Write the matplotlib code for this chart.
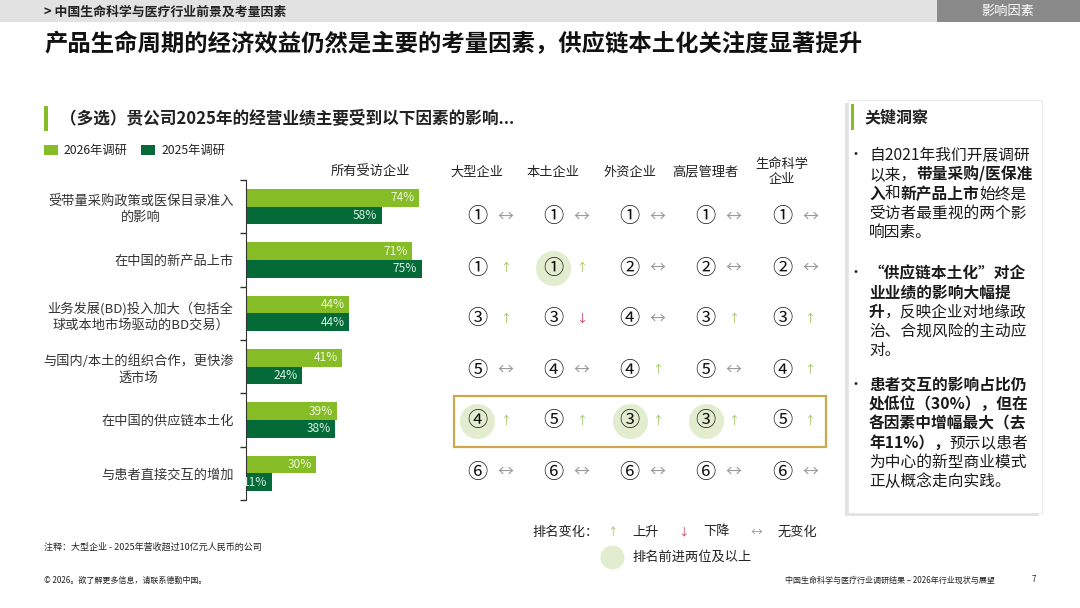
import matplotlib.pyplot as plt
from matplotlib.patches import Rectangle

plt.rcParams['font.family'] = ['Noto Sans CJK SC', 'DejaVu Sans']

# ==== Farben ====
GREEN = '#86BC25'
DARK_GREEN = '#046A38'
HL_GREEN = '#e2edcf'
UP_COLOR = '#9cc25a'
DOWN_COLOR = '#c23b55'
SAME_COLOR = '#9a9a9a'
GOLD = '#cfa84e'
TEXT = '#222222'

# ==== Daten ====
factors = ['受带量采购政策或医保目录准入\n的影响', '在中国的新产品上市',
           '业务发展(BD)投入加大（包括全\n球或本地市场驱动的BD交易）',
           '与国内/本土的组织合作，更快渗\n透市场', '在中国的供应链本土化', '与患者直接交互的增加']
survey_2026 = [74, 71, 44, 41, 39, 30]
survey_2025 = [58, 75, 44, 24, 38, 11]

segments = ['大型企业', '本土企业', '外资企业', '高层管理者', '生命科学\n企业']
# Rang je Faktor (Zeile) und Segment (Spalte)
ranks = [[1, 1, 1, 1, 1],
         [1, 1, 2, 2, 2],
         [3, 3, 4, 3, 3],
         [5, 4, 4, 5, 4],
         [4, 5, 3, 3, 5],
         [6, 6, 6, 6, 6]]
# Veränderung: 1 = Aufstieg, -1 = Abstieg, 0 = unverändert
changes = [[0, 0, 0, 0, 0],
           [1, 1, 0, 0, 0],
           [1, -1, 0, 1, 1],
           [0, 0, 1, 0, 1],
           [1, 1, 1, 1, 1],
           [0, 0, 0, 0, 0]]
# Aufstieg um zwei oder mehr Plätze
jump2 = [[0, 0, 0, 0, 0],
         [0, 1, 0, 0, 0],
         [0, 0, 0, 0, 0],
         [0, 0, 0, 0, 0],
         [1, 0, 1, 1, 0],
         [0, 0, 0, 0, 0]]
highlight_row = 4

arrow_sym = {1: '↑', -1: '↓', 0: '↔'}
arrow_col = {1: UP_COLOR, -1: DOWN_COLOR, 0: SAME_COLOR}

W, H = 1080, 608
fig = plt.figure(figsize=(W / 100, H / 100), dpi=100)
fig.patch.set_facecolor('white')


def px_axes(x0, y0, x1, y1, **kw):
    return fig.add_axes([x0 / W, 1 - y1 / H, (x1 - x0) / W, (y1 - y0) / H], **kw)


# ==== Hintergrund / Layout-Ebene in Pixelkoordinaten ====
bg = px_axes(0, 0, W, H)
bg.set_xlim(0, W)
bg.set_ylim(H, 0)
bg.axis('off')

bg.add_patch(Rectangle((0, 0), W, 22, color='#e2e2e2', lw=0))
bg.add_patch(Rectangle((937, 0), W - 937, 22, color='#8a8a8a', lw=0))
bg.text(44, 11.5, '> 中国生命科学与医疗行业前景及考量因素', fontsize=9.3, weight='bold',
        color=TEXT, va='center')
bg.text(1008, 11.5, '影响因素', fontsize=9.5, color='white', style='italic',
        va='center', ha='center')
bg.text(44, 44, '产品生命周期的经济效益仍然是主要的考量因素，供应链本土化关注度显著提升',
        fontsize=16.8, weight='bold', color='#111111', va='center')

bg.add_patch(Rectangle((44, 106), 3.5, 25, color=GREEN, lw=0))
bg.text(60, 118.5, '（多选）贵公司2025年的经营业绩主要受到以下因素的影响...',
        fontsize=12, weight='bold', color=TEXT, va='center')

# Legende
bg.add_patch(Rectangle((44, 145), 14, 10, color=GREEN, lw=0))
bg.text(64, 150, '2026年调研', fontsize=8.8, color=TEXT, va='center')
bg.add_patch(Rectangle((141, 145), 14, 10, color=DARK_GREEN, lw=0))
bg.text(162, 150, '2025年调研', fontsize=8.8, color=TEXT, va='center')
bg.text(370, 172, '所有受访企业', fontsize=9.5, color=TEXT, va='center', ha='center')

# Fußnoten
bg.text(44, 547, '注释：大型企业 - 2025年营收超过10亿元人民币的公司', fontsize=6.5,
        color=TEXT, va='center')
bg.text(44, 580, '© 2026。欲了解更多信息，请联系德勤中国。', fontsize=5.8,
        color=TEXT, va='center')
bg.text(995, 580, '中国生命科学与医疗行业调研结果 – 2026年行业现状与展望', fontsize=5.8,
        color=TEXT, va='center', ha='right')
bg.text(1034, 580, '7', fontsize=5.8, color=TEXT, va='center', ha='center')

# ==== Balkendiagramm ====
bx0, bx1 = 246, 446
ax = px_axes(bx0, 180, bx1, 500)
ax.set_xlim(0, (bx1 - bx0) / 2.34)
ax.set_ylim(len(factors) - 0.5, -0.5)
ypos = list(range(len(factors)))
bh = 0.33
ax.barh([y - bh / 2 for y in ypos], survey_2026, height=bh, color=GREEN, lw=0)
ax.barh([y + bh / 2 for y in ypos], survey_2025, height=bh, color=DARK_GREEN, lw=0)
for y, a, b in zip(ypos, survey_2026, survey_2025):
    ax.text(a - 1.8, y - bh / 2, f'{a}%', ha='right', va='center', fontsize=8.6,
            color='#eef6dc')
    ax.text(b - 1.8, y + bh / 2, f'{b}%', ha='right', va='center', fontsize=8.6,
            color='#d9f0e2', clip_on=False)
ax.set_yticks(ypos)
ax.set_yticklabels(factors, fontsize=9.5, color='#333333', linespacing=1.3)
for lab in ax.get_yticklabels():
    lab.set_multialignment('center')
ax.set_yticks([y - 0.5 for y in range(len(factors) + 1)], minor=True)
ax.tick_params(axis='y', which='major', length=0, pad=9)
ax.tick_params(axis='y', which='minor', length=4, width=1, color='#333333')
ax.set_xticks([])
for s in ['top', 'right', 'bottom']:
    ax.spines[s].set_visible(False)
ax.spines['left'].set_color('#333333')
ax.patch.set_alpha(0)

# ==== Rangtabelle ====
rx = px_axes(439, 191.5, 820, 497.5)
rx.set_xlim(-0.5, 4.5)
rx.set_ylim(5.5, -0.5)
rx.axis('off')
rx.patch.set_alpha(0)

for c, seg in enumerate(segments):
    rx.text(c, -0.88, seg, ha='center', va='center', fontsize=9.5, color=TEXT,
            linespacing=1.15, clip_on=False)

hl_x = [c for r in range(len(ranks)) for c in range(5) if jump2[r][c]]
hl_y = [r for r in range(len(ranks)) for c in range(5) if jump2[r][c]]
rx.scatter(hl_x, hl_y, s=640, color=HL_GREEN, lw=0, zorder=1, clip_on=False)

for r in range(len(ranks)):
    for c in range(5):
        rx.text(c, r, chr(0x2460 + ranks[r][c] - 1), ha='center', va='center',
                fontsize=14.5, color='#111111', zorder=3)
        ch = changes[r][c]
        rx.text(c + 0.37, r, arrow_sym[ch], ha='center', va='center',
                fontsize=8 if ch else 11.5, color=arrow_col[ch], zorder=3)

rx.add_patch(Rectangle((-0.3, highlight_row - 0.5), 4.88, 1.0, fill=False,
                       ec=GOLD, lw=1.6, clip_on=False, zorder=2))

# Legende der Rangänderung
bg.text(532, 532, '排名变化：', fontsize=9.5, color=TEXT, va='center')
bg.text(612, 532, '↑', fontsize=7.5, color=UP_COLOR, va='center', ha='center')
bg.text(632, 532, '上升', fontsize=9.5, color=TEXT, va='center')
bg.text(683, 532, '↓', fontsize=7.5, color=DOWN_COLOR, va='center', ha='center')
bg.text(703, 532, '下降', fontsize=9.5, color=TEXT, va='center')
bg.text(756, 532, '↔', fontsize=8.5, color=SAME_COLOR, va='center', ha='center')
bg.text(778, 532, '无变化', fontsize=9.5, color=TEXT, va='center')
bg.scatter([612], [557], s=300, color=HL_GREEN, lw=0)
bg.text(632, 557, '排名前进两位及以上', fontsize=9.5, color=TEXT, va='center')

# ==== Kasten "Schlüsselerkenntnisse" ====
bg.add_patch(Rectangle((845, 103), 194, 413, color='#d6d6d6', lw=0, alpha=0.7))
bg.add_patch(Rectangle((848, 100), 194, 413, facecolor='white', edgecolor='#e6e6e6', lw=0.6))
bg.add_patch(Rectangle((851, 104), 3, 26, color=GREEN, lw=0))
bg.text(864, 117, '关键洞察', fontsize=11.5, weight='bold', color=TEXT, va='center')

bullets = [
    (155, [[('自2021年我们开展调研', 0)],
           [('以来，', 0), ('带量采购/医保准', 1)],
           [('入', 1), ('和', 0), ('新产品上市', 1), ('始终是', 0)],
           [('受访者最重视的两个影', 0)],
           [('响因素。', 0)]]),
    (273, [[('“供应链本土化”对企', 1)],
           [('业业绩的影响大幅提', 1)],
           [('升', 1), ('，反映企业对地缘政', 0)],
           [('治、合规风险的主动应', 0)],
           [('对。', 0)]]),
    (385, [[('患者交互的影响占比仍', 1)],
           [('处低位（30%），但在', 1)],
           [('各因素中增幅最大（去', 1)],
           [('年11%），', 1), ('预示以患者', 0)],
           [('为中心的新型商业模式', 0)],
           [('正从概念走向实践。', 0)]]),
]

renderer = fig.canvas.get_renderer()
line_h = 19.3
for y0, lines in bullets:
    bg.text(856, y0, '•', fontsize=10, color=TEXT, va='center', ha='center')
    for i, line in enumerate(lines):
        x = 869
        for txt, bold in line:
            t = bg.text(x, y0 + i * line_h, txt, fontsize=11.3, color='#1a1a1a',
                        weight='bold' if bold else 'normal', va='center')
            x += t.get_window_extent(renderer).width

fig.savefig('out.png', dpi=100, facecolor='white')
